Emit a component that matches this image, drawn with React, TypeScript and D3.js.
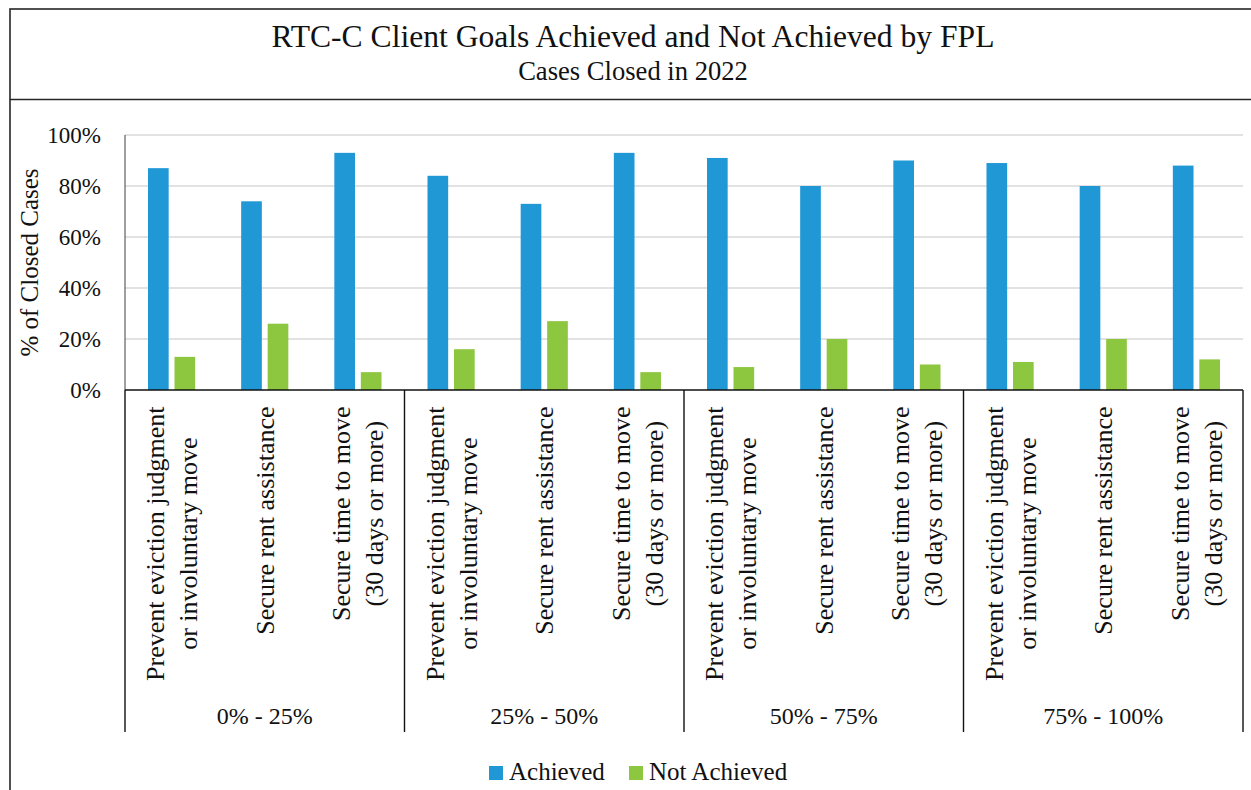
import React, { useEffect, useRef } from "react";
import * as d3 from "d3";

const groups = ["0% - 25%", "25% - 50%", "50% - 75%", "75% - 100%"];
const goalLabels = [
  ["Prevent eviction judgment", "or involuntary move"],
  ["Secure rent assistance"],
  ["Secure time to move", "(30 days or more)"],
];
const seriesNames = ["Achieved", "Not Achieved"];
const seriesColors = ["#1f98d5", "#8dc63f"];
const achieved = [87, 74, 93, 84, 73, 93, 91, 80, 90, 89, 80, 88];
const notAchieved = [13, 26, 7, 16, 27, 7, 9, 20, 10, 11, 20, 12];
const yTicks = [0, 20, 40, 60, 80, 100];

const W = 1251;
const H = 790;
const FONT = "'Liberation Serif', 'Times New Roman', serif";

export default function App() {
  const ref = useRef<SVGSVGElement>(null);

  useEffect(() => {
    document.body.style.margin = "0";
    const svg = d3.select(ref.current);
    svg.selectAll("*").remove();

    const left = 125;
    const right = 1243;
    const top = 135;
    const bottom = 390;

    const cats = groups.flatMap((g, gi) => goalLabels.map((_, k) => `${gi}-${k}`));
    const x0 = d3.scaleBand<string>().domain(cats).range([left, right]).padding(0);
    const x1 = d3
      .scaleBand<string>()
      .domain(seriesNames)
      .range([23, x0.bandwidth() - 23])
      .paddingInner(0.22);
    const y = d3.scaleLinear().domain([0, 100]).range([bottom, top]);

    // frame
    svg
      .append("rect")
      .attr("x", 10)
      .attr("y", 9)
      .attr("width", 1300)
      .attr("height", 900)
      .attr("fill", "#fff")
      .attr("stroke", "#262626")
      .attr("stroke-width", 1.6);
    svg
      .append("line")
      .attr("x1", 10)
      .attr("x2", W + 10)
      .attr("y1", 99.5)
      .attr("y2", 99.5)
      .attr("stroke", "#262626")
      .attr("stroke-width", 1.6);

    // title
    svg
      .append("text")
      .attr("x", 633)
      .attr("y", 47)
      .attr("text-anchor", "middle")
      .attr("font-family", FONT)
      .attr("font-size", 31.6)
      .attr("fill", "#111")
      .text("RTC-C Client Goals Achieved and Not Achieved by FPL");
    svg
      .append("text")
      .attr("x", 633)
      .attr("y", 80)
      .attr("text-anchor", "middle")
      .attr("font-family", FONT)
      .attr("font-size", 26.6)
      .attr("fill", "#111")
      .text("Cases Closed in 2022");

    // gridlines
    svg
      .append("g")
      .selectAll("line")
      .data(yTicks.filter((t) => t > 0))
      .join("line")
      .attr("x1", left)
      .attr("x2", right)
      .attr("y1", (d) => y(d))
      .attr("y2", (d) => y(d))
      .attr("stroke", "#d9d9d9")
      .attr("stroke-width", 1.3);

    // y tick labels
    svg
      .append("g")
      .selectAll("text")
      .data(yTicks)
      .join("text")
      .attr("x", 101)
      .attr("y", (d) => y(d))
      .attr("dy", "0.34em")
      .attr("text-anchor", "end")
      .attr("font-family", FONT)
      .attr("font-size", 23)
      .attr("fill", "#111")
      .text((d) => `${d}%`);

    // y axis title
    svg
      .append("text")
      .attr("transform", `translate(38, ${(top + bottom) / 2}) rotate(-90)`)
      .attr("text-anchor", "middle")
      .attr("font-family", FONT)
      .attr("font-size", 25)
      .attr("fill", "#111")
      .text("% of Closed Cases");

    // bars
    const seriesData = [achieved, notAchieved];
    seriesData.forEach((vals, si) => {
      svg
        .append("g")
        .selectAll("rect")
        .data(vals)
        .join("rect")
        .attr("x", (_, i) => (x0(cats[i]) as number) + (x1(seriesNames[si]) as number))
        .attr("width", x1.bandwidth())
        .attr("y", (d) => y(d))
        .attr("height", (d) => y(0) - y(d))
        .attr("fill", seriesColors[si]);
    });

    // y axis line
    svg
      .append("line")
      .attr("x1", left)
      .attr("x2", left)
      .attr("y1", top)
      .attr("y2", bottom)
      .attr("stroke", "#404040")
      .attr("stroke-width", 1);

    // x axis line
    svg
      .append("line")
      .attr("x1", left)
      .attr("x2", right)
      .attr("y1", bottom)
      .attr("y2", bottom)
      .attr("stroke", "#111")
      .attr("stroke-width", 1.6);

    // group separators
    const groupEdges = d3.range(groups.length + 1).map((g) =>
      g < groups.length ? (x0(cats[g * goalLabels.length]) as number) : right
    );
    svg
      .append("g")
      .selectAll("line")
      .data(groupEdges)
      .join("line")
      .attr("x1", (d) => d)
      .attr("x2", (d) => d)
      .attr("y1", bottom)
      .attr("y2", 732)
      .attr("stroke", "#111")
      .attr("stroke-width", 1.4);

    // category labels
    const labelTop = 406.5;
    const lineGap = 33;
    cats.forEach((c, i) => {
      const lines = goalLabels[i % goalLabels.length];
      const cx = (x0(c) as number) + x0.bandwidth() / 2;
      const g = svg.append("g");
      const texts = lines.map((ln, li) => {
        const bx = cx + 9 + (li - (lines.length - 1) / 2) * lineGap;
        return g
          .append("text")
          .attr("font-family", FONT)
          .attr("font-size", 26)
          .attr("fill", "#111")
          .attr("text-anchor", "middle")
          .attr("data-bx", bx)
          .text(ln);
      });
      const maxLen = d3.max(texts, (t) => (t.node() as SVGTextElement).getComputedTextLength()) || 0;
      const cy = labelTop + maxLen / 2;
      texts.forEach((t) => {
        const bx = +t.attr("data-bx");
        t.attr("transform", `translate(${bx}, ${cy}) rotate(-90)`);
      });
    });

    // group labels
    svg
      .append("g")
      .selectAll("text")
      .data(groups)
      .join("text")
      .attr("x", (_, gi) => (groupEdges[gi] + groupEdges[gi + 1]) / 2)
      .attr("y", 724)
      .attr("text-anchor", "middle")
      .attr("font-family", FONT)
      .attr("font-size", 24)
      .attr("fill", "#111")
      .text((d) => d);

    // legend
    const legendX = [489, 629];
    seriesNames.forEach((name, si) => {
      svg
        .append("rect")
        .attr("x", legendX[si])
        .attr("y", 766)
        .attr("width", 14)
        .attr("height", 14)
        .attr("fill", seriesColors[si]);
      svg
        .append("text")
        .attr("x", legendX[si] + 20)
        .attr("y", 780)
        .attr("font-family", FONT)
        .attr("font-size", 25)
        .attr("fill", "#111")
        .text(name);
    });
  }, []);

  return <svg ref={ref} width={W} height={H} style={{ display: "block", overflow: "hidden" }} />;
}
